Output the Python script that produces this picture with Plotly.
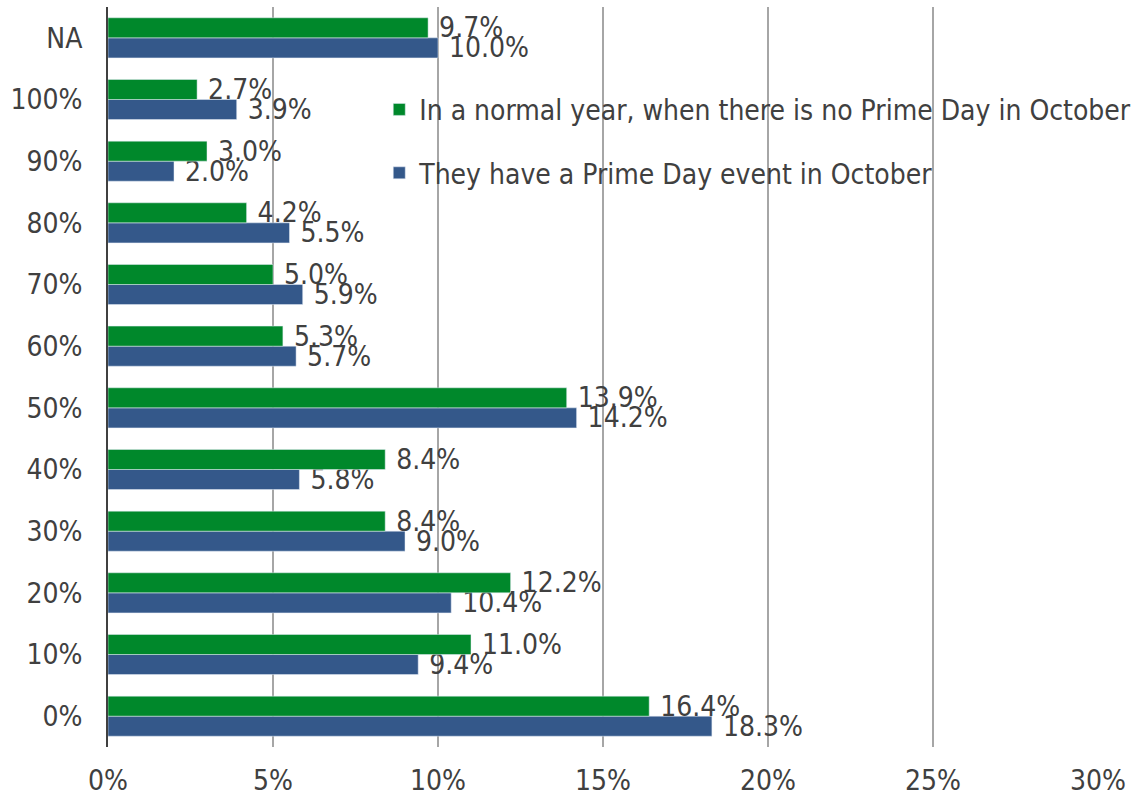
import plotly.graph_objects as go

# Share of shoppers by response bucket (bottom to top on the axis)
categories = ["0%", "10%", "20%", "30%", "40%", "50%", "60%", "70%", "80%", "90%", "100%", "NA"]
normal_year = [16.4, 11.0, 12.2, 8.4, 8.4, 13.9, 5.3, 5.0, 4.2, 3.0, 2.7, 9.7]
prime_day_october = [18.3, 9.4, 10.4, 9.0, 5.8, 14.2, 5.7, 5.9, 5.5, 2.0, 3.9, 10.0]
x_ticks = [0, 5, 10, 15, 20, 25, 30]
x_tick_labels = ["0%", "5%", "10%", "15%", "20%", "25%", "30%"]

GREEN = "#00882B"
BLUE = "#34588A"
TEXT = "#404040"
FONT = "DejaVu Sans Condensed, DejaVu Sans, sans-serif"
SIZE = 28

fig = go.Figure()

# Blue trace first so the green bar sits on top within each group
fig.add_trace(go.Bar(
    y=categories, x=prime_day_october, orientation="h",
    name="They have a Prime Day event in October",
    marker=dict(color=BLUE),
    text=prime_day_october, texttemplate=" %{x:.1f}%",
    textposition="outside", constraintext="none", cliponaxis=False,
    textfont=dict(color=TEXT, size=SIZE, family=FONT),
    legendrank=2, legendgroup="b",
))
fig.add_trace(go.Bar(
    y=categories, x=normal_year, orientation="h",
    name="In a normal year, when there is no Prime Day in October",
    marker=dict(color=GREEN),
    text=normal_year, texttemplate=" %{x:.1f}%",
    textposition="outside", constraintext="none", cliponaxis=False,
    textfont=dict(color=TEXT, size=SIZE, family=FONT),
    legendrank=1, legendgroup="a",
))

fig.update_layout(
    width=1138, height=799,
    margin=dict(l=108, r=40, t=7, b=52, autoexpand=False),
    paper_bgcolor="white", plot_bgcolor="white",
    barmode="group", bargap=0.35, bargroupgap=0,
    font=dict(family=FONT, color=TEXT, size=SIZE),
    showlegend=True,
    legend=dict(
        x=0.274, y=0.895, xanchor="left", yanchor="top",
        bgcolor="rgba(0,0,0,0)",
        font=dict(size=SIZE, color=TEXT, family=FONT),
        tracegroupgap=24,
    ),
    xaxis=dict(
        range=[0, 30], tickvals=x_ticks, ticktext=x_tick_labels,
        showgrid=True, gridcolor="#A6A6A6", gridwidth=1.5,
        zeroline=False, showline=False, ticks="",
        ticklabelstandoff=14,
        tickfont=dict(size=SIZE, color=TEXT, family=FONT),
    ),
    yaxis=dict(
        showgrid=False, zeroline=False,
        showline=True, linecolor="#404040", linewidth=2,
        ticks="", ticklabelstandoff=18,
        tickfont=dict(size=SIZE, color=TEXT, family=FONT),
    ),
)

fig.write_html("out.html")
